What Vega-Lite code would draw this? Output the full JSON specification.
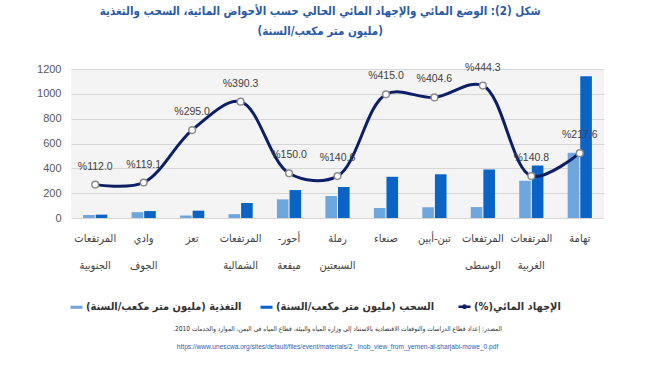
{
  "$schema": "https://vega.github.io/schema/vega-lite/v6.json",
  "background": "white",
  "padding": {"left": 36, "top": 6, "right": 20, "bottom": 0},
  "title": {
    "text": ["شكل (2): الوضع المائي والإجهاد المائي الحالي حسب الأحواض المائية، السحب والتغذية", "\u200f(مليون متر مكعب/السنة)\u200f"],
    "anchor": "middle",
    "fontSize": 11.5,
    "fontWeight": "bold",
    "color": "#2b5aa6",
    "font": "DejaVu Sans Condensed, DejaVu Sans",
    "lineHeight": 20,
    "offset": 25
  },
  "datasets": {
    "bars": [
      {"cat": "المرتفعات الجنوبية", "series": "التغذية (مليون متر مكعب/السنة)\u200f", "value": 24},
      {"cat": "المرتفعات الجنوبية", "series": "السحب (مليون متر مكعب/السنة)\u200f", "value": 27},
      {"cat": "وادي الجوف", "series": "التغذية (مليون متر مكعب/السنة)\u200f", "value": 47},
      {"cat": "وادي الجوف", "series": "السحب (مليون متر مكعب/السنة)\u200f", "value": 56},
      {"cat": "تعز", "series": "التغذية (مليون متر مكعب/السنة)\u200f", "value": 20},
      {"cat": "تعز", "series": "السحب (مليون متر مكعب/السنة)\u200f", "value": 59},
      {"cat": "المرتفعات الشمالية", "series": "التغذية (مليون متر مكعب/السنة)\u200f", "value": 31},
      {"cat": "المرتفعات الشمالية", "series": "السحب (مليون متر مكعب/السنة)\u200f", "value": 121},
      {"cat": "أحور-\u200f ميفعة", "series": "التغذية (مليون متر مكعب/السنة)\u200f", "value": 150},
      {"cat": "أحور-\u200f ميفعة", "series": "السحب (مليون متر مكعب/السنة)\u200f", "value": 225},
      {"cat": "رملة السبعتين", "series": "التغذية (مليون متر مكعب/السنة)\u200f", "value": 177},
      {"cat": "رملة السبعتين", "series": "السحب (مليون متر مكعب/السنة)\u200f", "value": 249},
      {"cat": "صنعاء", "series": "التغذية (مليون متر مكعب/السنة)\u200f", "value": 80},
      {"cat": "صنعاء", "series": "السحب (مليون متر مكعب/السنة)\u200f", "value": 332},
      {"cat": "تبن-أبين", "series": "التغذية (مليون متر مكعب/السنة)\u200f", "value": 87},
      {"cat": "تبن-أبين", "series": "السحب (مليون متر مكعب/السنة)\u200f", "value": 352},
      {"cat": "المرتفعات الوسطى", "series": "التغذية (مليون متر مكعب/السنة)\u200f", "value": 88},
      {"cat": "المرتفعات الوسطى", "series": "السحب (مليون متر مكعب/السنة)\u200f", "value": 391},
      {"cat": "المرتفعات الغربية", "series": "التغذية (مليون متر مكعب/السنة)\u200f", "value": 300},
      {"cat": "المرتفعات الغربية", "series": "السحب (مليون متر مكعب/السنة)\u200f", "value": 423},
      {"cat": "تهامة", "series": "التغذية (مليون متر مكعب/السنة)\u200f", "value": 525},
      {"cat": "تهامة", "series": "السحب (مليون متر مكعب/السنة)\u200f", "value": 1142}
    ],
    "stress": [
      {"cat": "المرتفعات الجنوبية", "stress": 112.0},
      {"cat": "وادي الجوف", "stress": 119.1},
      {"cat": "تعز", "stress": 295.0},
      {"cat": "المرتفعات الشمالية", "stress": 390.3},
      {"cat": "أحور-\u200f ميفعة", "stress": 150.0},
      {"cat": "رملة السبعتين", "stress": 140.6},
      {"cat": "صنعاء", "stress": 415.0},
      {"cat": "تبن-أبين", "stress": 404.6},
      {"cat": "المرتفعات الوسطى", "stress": 444.3},
      {"cat": "المرتفعات الغربية", "stress": 140.8},
      {"cat": "تهامة", "stress": 217.6}
    ],
    "footer": [
      {"kind": "a", "text": "المصدر: إعداد قطاع الدراسات والتوقعات الاقتصادية بالاستناد إلى وزارة المياه والبيئة، قطاع المياه في اليمن، الموارد والخدمات 2010.\u200f"},
      {"kind": "b", "text": "https://www.unescwa.org/sites/default/files/event/materials/2._lnob_view_from_yemen-al-sharjabi-mowe_0.pdf"}
    ]
  },
  "resolve": {"scale": {"color": "independent", "y": "independent"}, "legend": {"color": "independent"}},
  "vconcat": [
    {
      "width": 533,
      "height": 149,
      "view": {"fill": "#f4f4f4", "stroke": null},
      "resolve": {"scale": {"y": "independent"}},
      "layer": [
        {
          "data": {"name": "bars"},
          "mark": {"type": "bar"},
          "encoding": {
            "x": {
              "field": "cat", "type": "nominal", "sort": null,
              "scale": {"paddingInner": 0.5, "paddingOuter": 0.25},
              "axis": {"title": null, "labelAngle": 0, "domain": false, "ticks": false, "labelPadding": 20, "labelExpr": "split(datum.label, ' ')", "labelLineHeight": 27, "labelFontSize": 11, "labelColor": "#404040", "labelFont": "DejaVu Sans Condensed, DejaVu Sans", "labelBaseline": "middle"}
            },
            "xOffset": {"field": "series", "type": "nominal", "scale": {"domain": ["التغذية (مليون متر مكعب/السنة)\u200f", "السحب (مليون متر مكعب/السنة)\u200f"], "paddingInner": 0.08}},
            "y": {
              "field": "value", "type": "quantitative",
              "scale": {"domain": [0, 1200]},
              "axis": {"title": null, "values": [0, 200, 400, 600, 800, 1000, 1200], "format": "d", "domain": false, "ticks": false, "labelPadding": 10, "labelFontSize": 11, "labelColor": "#595959", "gridColor": "#d6d6d6", "labelFont": "Liberation Sans"}
            },
            "color": {
              "field": "series", "type": "nominal",
              "scale": {"domain": ["التغذية (مليون متر مكعب/السنة)\u200f", "السحب (مليون متر مكعب/السنة)\u200f", "الإجهاد المائي(%)\u200f"], "range": ["#6ea7dd", "#0b63c6", "#0c1f66"]},
              "legend": {
                "title": null, "orient": "bottom", "direction": "horizontal", "offset": 31,
                "labelFontSize": 11, "labelFontWeight": "bold", "labelColor": "#333333", "labelFont": "DejaVu Sans Condensed, DejaVu Sans",
                "labelLimit": 0,
                "symbolSize": 64, "columnPadding": 18, "labelOffset": 4,
                "encode": {
                  "symbols": {
                    "update": {
                      "shape": {"signal": "datum.index === 2 ? 'M-1.5,0H-0.32M0.32,0H1.5M-0.3,0A0.3,0.3,0,1,0,0.3,0A0.3,0.3,0,1,0,-0.3,0' : 'M-1.5,-0.38H1.5V0.38H-1.5Z'"},
                      "fill": {"signal": "datum.index === 0 ? '#6ea7dd' : datum.index === 1 ? '#0b63c6' : '#ffffff'"},
                      "stroke": {"signal": "datum.index === 2 ? '#0c1f66' : 'transparent'"},
                      "strokeWidth": {"signal": "datum.index === 2 ? 2.5 : 0"},
                      "opacity": {"value": 1}
                    }
                  }
                }
              }
            }
          }
        },
        {
          "data": {"name": "stress"},
          "mark": {"type": "line", "interpolate": "catmull-rom", "strokeWidth": 3},
          "encoding": {
            "x": {"field": "cat", "type": "nominal", "sort": null},
            "y": {"field": "stress", "type": "quantitative", "scale": {"domain": [0, 500]}, "axis": null},
            "color": {"datum": "الإجهاد المائي(%)\u200f"}
          }
        },
        {
          "data": {"name": "stress"},
          "mark": {"type": "point", "filled": true, "fill": "white", "stroke": "#8c8c8c", "strokeWidth": 1.5, "size": 45, "opacity": 1},
          "encoding": {
            "x": {"field": "cat", "type": "nominal", "sort": null},
            "y": {"field": "stress", "type": "quantitative", "scale": {"domain": [0, 500]}, "axis": null}
          }
        },
        {
          "data": {"name": "stress"},
          "mark": {"type": "text", "dy": -18, "fontSize": 10.5, "color": "#404040", "font": "Liberation Sans", "text": {"expr": "'%' + format(datum.stress, '.1f')"}},
          "encoding": {
            "x": {"field": "cat", "type": "nominal", "sort": null},
            "y": {"field": "stress", "type": "quantitative", "scale": {"domain": [0, 500]}, "axis": null}
          }
        }
      ]
    },
    {
      "width": 533,
      "height": 36,
      "data": {"name": "footer"},
      "layer": [
        {
          "transform": [{"filter": "datum.kind === 'a'"}],
          "mark": {"type": "text", "fontSize": 6.6, "color": "#333333", "font": "DejaVu Sans Condensed, DejaVu Sans"},
          "encoding": {
            "y": {"field": "kind", "type": "nominal", "scale": {"domain": ["a", "b"]}, "axis": null},
            "text": {"field": "text"}
          }
        },
        {
          "transform": [{"filter": "datum.kind === 'b'"}],
          "mark": {"type": "text", "fontSize": 6.6, "color": "#2a63b0", "font": "Liberation Sans"},
          "encoding": {
            "y": {"field": "kind", "type": "nominal", "scale": {"domain": ["a", "b"]}, "axis": null},
            "text": {"field": "text"}
          }
        }
      ]
    }
  ],
  "config": {
    "view": {"stroke": null},
    "concat": {"spacing": 7}
  }
}
